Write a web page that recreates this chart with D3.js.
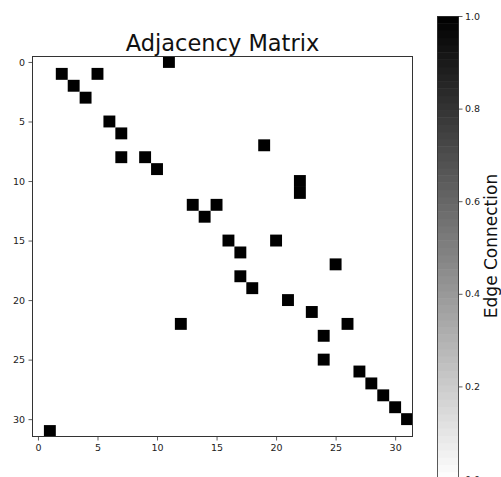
<!DOCTYPE html>
<html>
<head>
<meta charset="utf-8">
<script src="https://cdn.jsdelivr.net/npm/d3@7"></script>
<style>
  body { margin: 0; background: #fff; }
  svg { display: block; font-family: "DejaVu Sans", sans-serif; }
</style>
</head>
<body>
<div id="chart"></div>
<script>
// Matrix size and edge list (row, col) of nonzero entries
const nodeCount = 32;
const edgeRows = [0, 1, 1, 2, 3, 5, 6, 7, 8, 8, 9, 10, 11, 12, 12, 13, 15, 15, 16, 17, 18, 19, 20, 21, 22, 22, 23, 25, 26, 27, 28, 29, 30, 31];
const edgeCols = [11, 2, 5, 3, 4, 6, 7, 19, 7, 9, 10, 22, 22, 13, 15, 14, 16, 20, 17, 25, 17, 18, 21, 23, 12, 26, 24, 24, 27, 28, 29, 30, 31, 1];
const edgeValues = edgeRows.map(() => 1);
const axisTicks = [0, 5, 10, 15, 20, 25, 30];
const colorbarTicks = [0.0, 0.2, 0.4, 0.6, 0.8, 1.0];

const width = 501, height = 477;
const plot = { left: 32, top: 56, size: 381 };
const tickFont = 9.5;

const svg = d3.select('#chart').append('svg')
    .attr('width', width)
    .attr('height', height);

const x = d3.scaleLinear().domain([-0.5, nodeCount - 0.5]).range([plot.left, plot.left + plot.size]);
const y = d3.scaleLinear().domain([-0.5, nodeCount - 0.5]).range([plot.top, plot.top + plot.size]);
const colour = d3.scaleSequential(t => d3.interpolateRgb('#ffffff', '#000000')(t)).domain([0, 1]);

// Background of the image
svg.append('rect')
    .attr('x', plot.left).attr('y', plot.top)
    .attr('width', plot.size).attr('height', plot.size)
    .attr('fill', colour(0));

// Cells
const cellW = x(1) - x(0);
svg.append('g')
    .selectAll('rect')
    .data(edgeRows.map((r, i) => ({ r, c: edgeCols[i], v: edgeValues[i] })))
    .join('rect')
    .attr('x', d => x(d.c - 0.5))
    .attr('y', d => y(d.r - 0.5))
    .attr('width', cellW)
    .attr('height', cellW)
    .attr('fill', d => colour(d.v));

// Axes
const xAxis = svg.append('g')
    .attr('transform', `translate(0,${plot.top + plot.size})`)
    .call(d3.axisBottom(x).tickValues(axisTicks).tickSize(3.5).tickPadding(3.5));
const yAxis = svg.append('g')
    .attr('transform', `translate(${plot.left},0)`)
    .call(d3.axisLeft(y).tickValues(axisTicks).tickSize(3.5).tickPadding(3.5));
[xAxis, yAxis].forEach(a => {
    a.select('.domain').remove();
    a.selectAll('text').attr('font-size', tickFont).attr('fill', '#222').attr('font-family', 'DejaVu Sans');
    a.selectAll('line').attr('stroke', '#333').attr('stroke-width', 0.8);
});

// Frame
svg.append('rect')
    .attr('x', plot.left + 0.5).attr('y', plot.top + 0.5)
    .attr('width', plot.size - 1).attr('height', plot.size - 1)
    .attr('fill', 'none')
    .attr('stroke', '#333')
    .attr('stroke-width', 1);

// Title
svg.append('text')
    .attr('x', plot.left + plot.size / 2)
    .attr('y', 51)
    .attr('text-anchor', 'middle')
    .attr('font-size', 22.5)
    .attr('fill', '#111')
    .text('Adjacency Matrix');

// Colorbar
const cb = { left: 437, width: 22, top: 16, bottom: 479 };
const cbScale = d3.scaleLinear().domain([0, 1]).range([cb.bottom, cb.top]);
const bands = d3.range(64).map(i => i / 64);
svg.append('g')
    .selectAll('rect')
    .data(bands)
    .join('rect')
    .attr('x', cb.left)
    .attr('y', d => cbScale(d + 1 / 64))
    .attr('width', cb.width)
    .attr('height', d => cbScale(d) - cbScale(d + 1 / 64) + 0.5)
    .attr('fill', d => colour(d + 0.5 / 64));
svg.append('rect')
    .attr('x', cb.left + 0.5).attr('y', cb.top + 0.5)
    .attr('width', cb.width - 1).attr('height', cb.bottom - cb.top)
    .attr('fill', 'none').attr('stroke', '#333').attr('stroke-width', 0.8);

const cbAxis = svg.append('g')
    .attr('transform', `translate(${cb.left + cb.width},0)`)
    .call(d3.axisRight(cbScale).tickValues(colorbarTicks).tickFormat(d3.format('.1f')).tickSize(3.5).tickPadding(2.5));
cbAxis.select('.domain').remove();
cbAxis.selectAll('text').attr('font-size', tickFont).attr('fill', '#222').attr('font-family', 'DejaVu Sans');
cbAxis.selectAll('line').attr('stroke', '#333').attr('stroke-width', 0.8);

svg.append('text')
    .attr('transform', `translate(497,246) rotate(-90)`)
    .attr('text-anchor', 'middle')
    .attr('font-size', 17)
    .attr('fill', '#111')
    .text('Edge Connection');
</script>
</body>
</html>
